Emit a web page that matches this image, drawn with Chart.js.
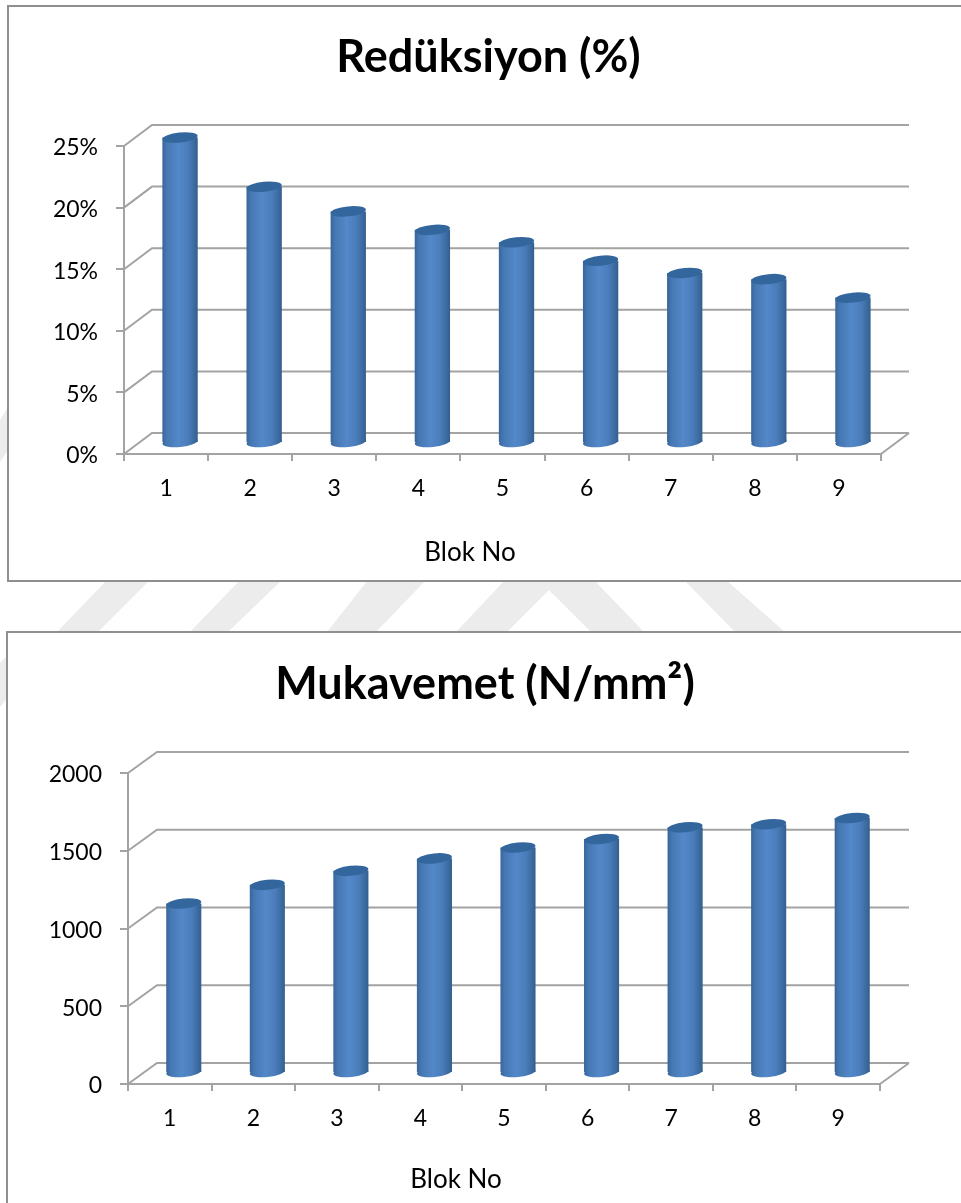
<!DOCTYPE html>
<html>
<head>
<meta charset="utf-8">
<title>Blok No grafikleri</title>
<script src="https://cdn.jsdelivr.net/npm/chart.js@4"></script>
<style>
    html, body { margin: 0; padding: 0; background: #fff; }
    body { position: relative; width: 961px; height: 1203px; overflow: hidden; }
    .stripes { position: absolute; left: 0; top: 0; }
    .panel { position: absolute; background: #fff; border: 2px solid #8f8f8f; box-sizing: border-box; }
    #panelTop { left: 7px; top: 5px; width: 970px; height: 577px; }
    #panelBottom { left: 6px; top: 631px; width: 970px; height: 590px; }
    canvas { position: absolute; left: 0; }
    #reductionChart { top: 0; }
    #strengthChart { top: 630px; }
</style>
</head>
<body>
<!-- faint page stripes behind the two panels -->
<svg class="stripes" width="961" height="1203">
    <g fill="#ececec">
        <polygon points="0,420 8,407 8,450 0,462"/>
        <polygon points="57,632 98,632 150,580 107,580"/>
        <polygon points="190,632 228,632 282,580 240,580"/>
        <polygon points="327,632 376,632 426,580 368,580"/>
        <polygon points="456,632 507,632 549,590 591,632 644,632 594,580 505,580"/>
        <polygon points="735,632 785,632 726,580 684,580"/>
        <polygon points="0,663 6,657 6,700 0,707"/>
    </g>
</svg>
<div class="panel" id="panelTop"></div>
<div class="panel" id="panelBottom"></div>
<canvas id="reductionChart" width="961" height="582"></canvas>
<canvas id="strengthChart" width="961" height="573"></canvas>

<script>
const blokNo = ['1', '2', '3', '4', '5', '6', '7', '8', '9'];
const reduksiyon = [24.8, 20.8, 18.8, 17.3, 16.3, 14.8, 13.8, 13.3, 11.8];
const mukavemet = [1090, 1210, 1300, 1380, 1450, 1505, 1580, 1600, 1640];
const reduksiyonTicks = [0, 5, 10, 15, 20, 25];
const mukavemetTicks = [0, 500, 1000, 1500, 2000];
const xAxisName = 'Blok No';

const FONT = 'Lato, Carlito, Calibri, sans-serif';
const GRID = '#a3a3a3';

const cylinderFill = (ctx, left, right) => {
    const g = ctx.createLinearGradient(left, 0, right, 0);
    g.addColorStop(0, '#38659a');
    g.addColorStop(0.12, '#4577b2');
    g.addColorStop(0.45, '#5388c9');
    g.addColorStop(0.72, '#4a7dba');
    g.addColorStop(0.9, '#3c6ba1');
    g.addColorStop(1, '#335f8f');
    return g;
};

// Fake Excel 3D look: back wall + floor behind the bars, rounded ends on the bars
const depthPlugin = {
    id: 'depth3d',
    afterLayout(chart, args, opts) {
        // title sits centred on the whole sheet, not on the plot
        chart.titleBlock.left += opts.titleShift;
        chart.titleBlock.right += opts.titleShift;
    },
    beforeDatasetsDraw(chart, args, opts) {
        const { ctx, scales: { y } } = chart;
        const { left, right } = chart.chartArea;
        ctx.save();
        ctx.strokeStyle = GRID;
        ctx.lineWidth = 2;
        y.ticks.forEach(t => {
            const py = y.getPixelForValue(t.value);
            ctx.beginPath();
            ctx.moveTo(left, py);
            ctx.lineTo(left + opts.wallDx, py + opts.wallDy);
            ctx.lineTo(right + opts.wallDx, py + opts.wallDy);
            ctx.stroke();
        });
        const floor = y.getPixelForValue(0);
        ctx.beginPath();
        ctx.moveTo(right, floor);
        ctx.lineTo(right + opts.wallDx, floor + opts.wallDy);
        ctx.stroke();
        ctx.restore();
    },
    beforeDatasetDraw(chart, args, opts) {
        chart.ctx.save();
        chart.ctx.translate(opts.barDx, opts.barDy);
    },
    afterDatasetDraw(chart, args) {
        const ctx = chart.ctx;
        args.meta.data.forEach(bar => {
            const { x, y, base, width } = bar.getProps(['x', 'y', 'base', 'width'], true);
            const r = width / 2;
            // bottom end
            ctx.beginPath();
            ctx.ellipse(x, base, r, 5, -0.1, 0, Math.PI * 2);
            ctx.fillStyle = cylinderFill(ctx, x - r, x + r);
            ctx.fill();
            // top cap
            ctx.beginPath();
            ctx.ellipse(x, y, r, 5, -0.1, 0, Math.PI * 2);
            ctx.fillStyle = '#34669e';
            ctx.fill();
        });
        ctx.restore();
    },
    // axis name is off-centre under the plot, the scale title can't do that
    afterDraw(chart, args, opts) {
        const ctx = chart.ctx;
        ctx.save();
        ctx.fillStyle = '#000';
        ctx.font = `26px ${FONT}`;
        ctx.textAlign = 'center';
        ctx.textBaseline = 'middle';
        ctx.fillText(xAxisName, opts.nameX, opts.nameY);
        ctx.restore();
    }
};

const makeChart = (id, title, values, ticks, tickLabel, box) => {
    return new Chart(document.getElementById(id), {
        type: 'bar',
        plugins: [depthPlugin],
        data: {
            labels: blokNo,
            datasets: [{
                data: values,
                clip: false,
                barPercentage: 0.42,
                categoryPercentage: 1,
                borderWidth: 0,
                backgroundColor: c => {
                    const { chart, dataIndex } = c;
                    if (!chart.chartArea) return '#4a7dba';
                    const cx = chart.scales.x.getPixelForValue(dataIndex);
                    const half = chart.scales.x.width / blokNo.length * 0.21;
                    return cylinderFill(chart.ctx, cx - half, cx + half);
                }
            }]
        },
        options: {
            responsive: false,
            animation: false,
            layout: { padding: { left: 0, right: box.padRight, top: 0, bottom: box.padBottom } },
            plugins: {
                legend: { display: false },
                tooltip: { enabled: false },
                title: {
                    display: true,
                    text: title,
                    color: '#000',
                    font: { family: FONT, size: 45, weight: 'bold' },
                    padding: { top: box.titleTop, bottom: box.titleBottom }
                },
                depth3d: {
                    wallDx: box.wallDx, wallDy: box.wallDy, barDx: 14, barDy: -11,
                    titleShift: box.titleShift, nameX: box.nameX, nameY: box.nameY
                }
            },
            scales: {
                x: {
                    afterFit: s => { s.height = box.xHeight; },
                    grid: { drawOnChartArea: false, color: GRID, lineWidth: 2, tickLength: 7 },
                    border: { color: GRID, width: 2 },
                    ticks: { color: '#000', font: { family: FONT, size: 23 }, padding: 14, maxRotation: 0 }
                },
                y: {
                    min: ticks[0],
                    max: ticks[ticks.length - 1],
                    afterFit: s => { s.width = box.yWidth; },
                    afterBuildTicks: s => { s.ticks = ticks.map(value => ({ value })); },
                    grid: { drawOnChartArea: false, color: GRID, lineWidth: 2, tickLength: 8 },
                    border: { color: GRID, width: 2 },
                    ticks: { color: '#000', font: { family: FONT, size: 23 }, padding: 18, labelOffset: 2, callback: tickLabel }
                }
            }
        }
    });
};

makeChart('reductionChart', 'Redüksiyon (%)', reduksiyon, reduksiyonTicks, v => v + '%', {
    padRight: 80, padBottom: 6, yWidth: 124, xHeight: 122,
    titleTop: 30, titleBottom: 62, titleShift: 48, wallDx: 28, wallDy: -21,
    nameX: 470, nameY: 553
});

makeChart('strengthChart', 'Mukavemet (N/mm²)', mukavemet, mukavemetTicks, v => v, {
    padRight: 81, padBottom: 0, yWidth: 128, xHeight: 119,
    titleTop: 27, titleBottom: 62, titleShift: 45, wallDx: 29, wallDy: -21,
    nameX: 456, nameY: 550
});
</script>
</body>
</html>
